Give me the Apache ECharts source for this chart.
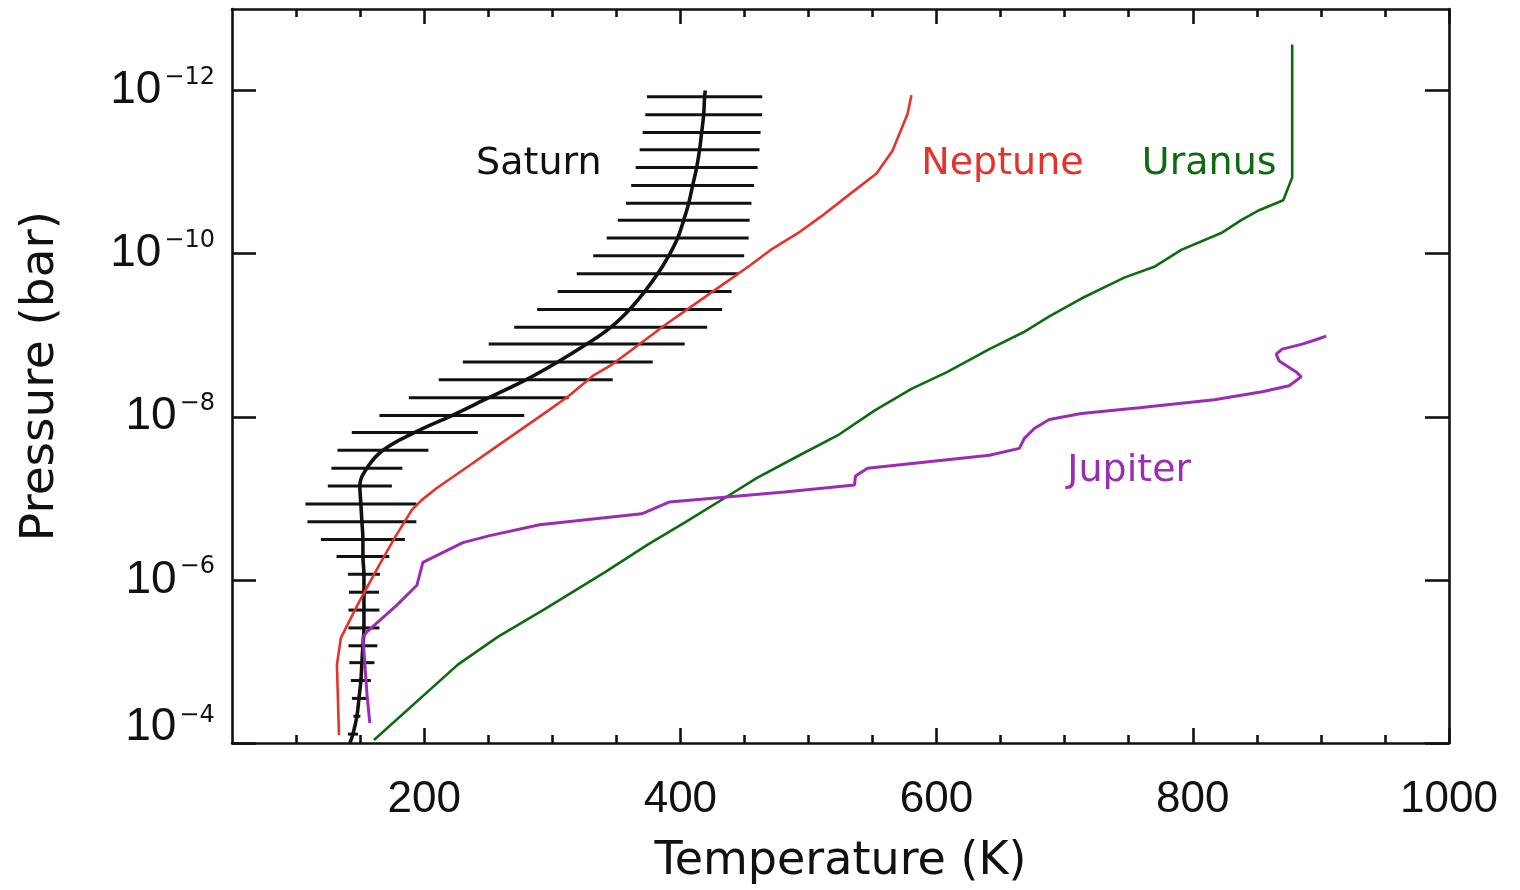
<!DOCTYPE html>
<html>
<head>
<meta charset="utf-8">
<title>Thermospheric temperature profiles</title>
<script src="https://cdn.jsdelivr.net/npm/echarts@6/dist/echarts.min.js"></script>
<style>
  html, body { margin: 0; padding: 0; background: #fff; }
  #chart { width: 1520px; height: 890px; }
</style>
</head>
<body>
<div id="chart"></div>
<script>
// Pressure is stored as log10(P / bar); temperature in K.

// Saturn: smooth profile with symmetric temperature uncertainties
const saturnLogP = [-12.0, -11.923, -11.704, -11.485, -11.275, -11.056, -10.837, -10.618, -10.411, -10.192,
  -9.973, -9.754, -9.535, -9.316, -9.097, -8.891, -8.672, -8.453, -8.234, -8.015,
  -7.808, -7.589, -7.370, -7.151, -6.932, -6.713, -6.494, -6.287, -6.068, -5.849,
  -5.630, -5.411, -5.192, -4.985, -4.766, -4.547, -4.328, -4.109, -4.0];
const saturnT = [419.5, 418.9, 418.2, 416.6, 415.0, 412.7, 409.6, 406.5, 402.6, 397.9,
  390.9, 382.3, 372.1, 360.4, 345.6, 326.9, 304.3, 279.3, 250.4, 221.6,
  192.7, 167.8, 155.3, 149.8, 150.6, 151.4, 152.2, 152.2, 153.0, 153.0,
  153.0, 153.0, 152.2, 151.4, 150.6, 149.1, 147.5, 144.4, 142.0];
const saturnErr = [0, 45.0, 45.6, 46.0, 46.8, 47.6, 48.0, 49.0, 51.5, 55.4,
  58.9, 63.2, 67.9, 72.2, 75.3, 76.5, 74.1, 67.9, 62.4, 56.5,
  49.2, 35.5, 27.7, 25.0, 43.3, 42.5, 32.8, 20.6, 12.5, 11.7,
  12.1, 12.1, 11.3, 9.8, 7.8, 5.5, 2.7, 3.9, 0];

// Neptune
const neptuneT = [133.5, 131.9, 135.0, 148.3, 163.9, 177.1, 190.4, 198.2, 209.9, 235.6,
  254.4, 295.7, 312.1, 331.6, 347.2, 378.4, 387.7, 425.2, 454.0, 470.4,
  493.0, 510.2, 532.0, 553.1, 565.6, 577.3, 580.4];
const neptuneLogP = [-4.097, -4.961, -5.290, -5.703, -6.153, -6.518, -6.859, -6.981, -7.127, -7.406,
  -7.613, -8.063, -8.246, -8.501, -8.647, -9.012, -9.122, -9.535, -9.852, -10.046,
  -10.265, -10.460, -10.727, -10.983, -11.263, -11.713, -11.944];

// Uranus
const uranusT = [160.8, 226.3, 257.5, 294.1, 340.9, 374.5, 403.3, 438.4, 459.5, 493.0,
  522.7, 551.5, 580.4, 608.5, 641.2, 667.8, 688.0, 713.0, 746.5, 769.9,
  791.0, 822.2, 837.8, 851.8, 870.6, 877.6, 877.6];
const uranusLogP = [-4.036, -4.961, -5.302, -5.642, -6.092, -6.433, -6.701, -7.041, -7.248, -7.528,
  -7.771, -8.075, -8.343, -8.550, -8.830, -9.036, -9.231, -9.450, -9.706, -9.839,
  -10.046, -10.253, -10.411, -10.533, -10.655, -10.934, -12.564];

// Jupiter
const jupiterT = [157.6, 155.3, 152.2, 155.3, 178.7, 194.3, 199.0, 230.2, 251.2, 290.2,
  369.8, 391.6, 481.3, 535.9, 536.7, 546.1, 641.2, 664.6, 668.5, 676.3,
  688.0, 713.0, 758.2, 816.7, 854.2, 875.2, 884.6, 880.7, 867.4, 865.1,
  869.8, 885.4, 897.1, 904.1];
const jupiterLogP = [-4.243, -4.608, -5.302, -5.363, -5.691, -5.934, -6.214, -6.457, -6.543, -6.676,
  -6.810, -6.956, -7.078, -7.163, -7.273, -7.370, -7.528, -7.613, -7.735, -7.856,
  -7.966, -8.039, -8.112, -8.209, -8.307, -8.380, -8.489, -8.550, -8.684, -8.769,
  -8.830, -8.891, -8.951, -8.988];

// Axis ticks
const tempMajorTicks = [200, 400, 600, 800, 1000];
const tempMinorTicks = [100, 150, 250, 300, 350, 450, 500, 550, 650, 700, 750, 850, 900, 950];
const pressureTicks = [-12, -10, -8, -6, -4];

const colors = { saturn: '#111111', neptune: '#e4332a', uranus: '#0e6b12', jupiter: '#9a2db4' };
const axisColor = '#111111';
const textFont = "'DejaVu Sans', sans-serif";
const numFont = "'Liberation Sans', sans-serif";
const supFont = "'DejaVu Sans', sans-serif";

const zip = (xs, ys) => xs.map((x, i) => [x, ys[i]]);

function tempAxis(position, ticks, len, showLine, withLabels) {
  return {
    type: 'value', gridIndex: 0, position: position, min: 50, max: 1000,
    axisLine: { show: showLine, onZero: false, lineStyle: { color: axisColor, width: 2.6 } },
    axisTick: { show: true, inside: true, length: len, customValues: ticks,
      lineStyle: { color: axisColor, width: 2.6 } },
    axisLabel: withLabels ? {
      show: true, customValues: ticks, margin: 35, color: '#111',
      fontFamily: numFont, fontSize: 44,
      formatter: function (v) { return String(Math.round(v)); }
    } : { show: false },
    splitLine: { show: false }
  };
}

function pressureAxis(position, withLabels) {
  return {
    type: 'value', gridIndex: 0, position: position, min: -13, max: -4, inverse: true,
    axisLine: { show: true, onZero: false, lineStyle: { color: axisColor, width: 2.6 } },
    axisTick: { show: true, inside: true, length: 24, customValues: pressureTicks,
      lineStyle: { color: axisColor, width: 2.6 } },
    axisLabel: withLabels ? {
      show: true, customValues: pressureTicks, margin: 17,
      formatter: function (v) {
        const e = Math.round(v);
        const sup = '{s|\u2212' + Math.abs(e) + '}';
        // the bottom label is lifted so it stays within the frame height
        if (e === -4) return '{bL|10}' + sup + '{gap| }';
        return '{b|10}' + sup;
      },
      rich: {
        b: { fontFamily: numFont, fontSize: 46, color: '#111', lineHeight: 50 },
        bL: { fontFamily: numFont, fontSize: 46, color: '#111', lineHeight: 50, verticalAlign: 'top' },
        s: { fontFamily: supFont, fontSize: 24, color: '#111', lineHeight: 22, verticalAlign: 'top', padding: [0, 0, 0, 3] },
        gap: { fontSize: 1, lineHeight: 78, verticalAlign: 'top' }
      }
    } : { show: false },
    splitLine: { show: false }
  };
}

const xAxes = [
  tempAxis('bottom', tempMajorTicks, 15, true, true),
  tempAxis('bottom', tempMinorTicks, 8, false, false),
  tempAxis('top', tempMajorTicks, 15, true, false),
  tempAxis('top', tempMinorTicks, 8, false, false)
];
Object.assign(xAxes[0], {
  name: 'Temperature (K)', nameLocation: 'middle', nameGap: 96,
  nameTextStyle: { fontFamily: textFont, fontSize: 46, color: '#111' }
});

const yAxes = [pressureAxis('left', true), pressureAxis('right', false)];
Object.assign(yAxes[0], {
  name: 'Pressure (bar)', nameLocation: 'middle', nameGap: 168,
  nameTextStyle: { fontFamily: textFont, fontSize: 47, color: '#111' }
});

function nameTag(text, color, coord) {
  return {
    symbol: 'circle', symbolSize: 0, silent: true,
    label: { show: true, position: 'inside', formatter: text, color: color,
      fontFamily: textFont, fontSize: 38 },
    data: [{ coord: coord }]
  };
}

function profile(name, xs, ys, color, width, smooth, tag) {
  return {
    type: 'line', name: name, xAxisIndex: 0, yAxisIndex: 0,
    data: zip(xs, ys), showSymbol: false, symbol: 'none', smooth: smooth,
    lineStyle: { color: color, width: width }, clip: true,
    markPoint: tag, z: 3
  };
}

const option = {
  animation: false,
  backgroundColor: '#ffffff',
  grid: { left: 232, right: 71, top: 9, bottom: 143, containLabel: false },
  xAxis: xAxes,
  yAxis: yAxes,
  series: [
    {
      type: 'custom', name: 'Saturn uncertainty', xAxisIndex: 0, yAxisIndex: 0,
      data: saturnT.map((t, i) => [t, saturnLogP[i], saturnErr[i]]),
      renderItem: function (params, api) {
        const err = api.value(2);
        if (!(err > 0)) return null;
        const t = api.value(0), p = api.value(1);
        const a = api.coord([t - err, p]);
        const b = api.coord([t + err, p]);
        return {
          type: 'line',
          shape: { x1: a[0], y1: a[1], x2: b[0], y2: b[1] },
          style: { stroke: colors.saturn, lineWidth: 3 }
        };
      },
      z: 2
    },
    profile('Saturn', saturnT, saturnLogP, colors.saturn, 3.6, 0.4,
      nameTag('Saturn', colors.saturn, [289.5, -11.1])),
    profile('Neptune', neptuneT, neptuneLogP, colors.neptune, 2.6, false,
      nameTag('Neptune', colors.neptune, [651.4, -11.1])),
    profile('Uranus', uranusT, uranusLogP, colors.uranus, 2.6, false,
      nameTag('Uranus', colors.uranus, [812.8, -11.1])),
    profile('Jupiter', jupiterT, jupiterLogP, colors.jupiter, 3, false,
      nameTag('Jupiter', colors.jupiter, [750.4, -7.33]))
  ]
};

const chart = echarts.init(document.getElementById('chart'), null, { renderer: 'canvas' });
chart.setOption(option);
</script>
</body>
</html>
